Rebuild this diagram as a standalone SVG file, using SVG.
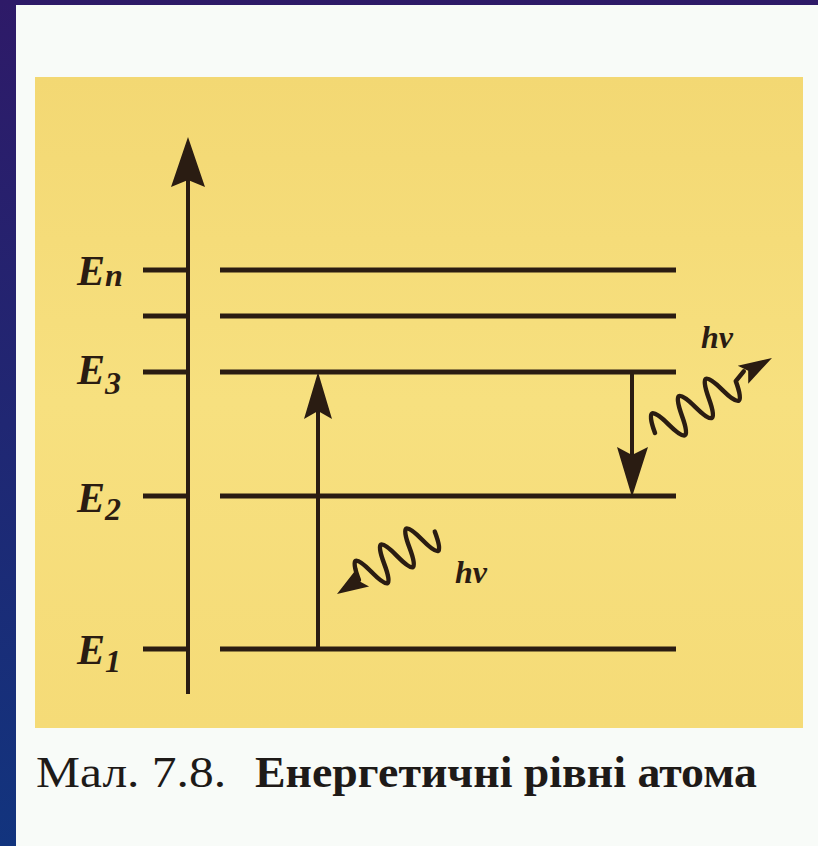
<svg xmlns="http://www.w3.org/2000/svg" width="818" height="846" viewBox="0 0 818 846">
<defs>
<linearGradient id="border" x1="0" y1="0" x2="0" y2="1">
<stop offset="0" stop-color="#2e1a68"/>
<stop offset="1" stop-color="#12347e"/>
</linearGradient>
<linearGradient id="paper" x1="0" y1="0" x2="0" y2="1">
<stop offset="0" stop-color="#f3d873"/>
<stop offset="0.5" stop-color="#f7e07f"/>
<stop offset="1" stop-color="#f5db77"/>
</linearGradient>
<style>
.ln{stroke:#2a1c12;stroke-width:5;fill:none;}
.ax{stroke:#2a1c12;stroke-width:4;fill:none;}
.hd{fill:#2a1c12;stroke:none;}
.wv{stroke:#2a1c12;stroke-width:4.5;fill:none;stroke-linejoin:round;stroke-linecap:round;}
.lab{font-family:"Liberation Serif","DejaVu Serif",serif;font-style:italic;font-weight:bold;fill:#2a1c12;}
.cap{font-family:"Liberation Serif","DejaVu Serif",serif;fill:#1e1a18;}
</style>
</defs>
<rect x="0" y="0" width="818" height="846" fill="url(#border)"/>
<rect x="16" y="5" width="802" height="841" fill="#f8fbf8"/>
<rect id="panel" x="35" y="77" width="768" height="651" fill="url(#paper)"/>

<g id="level-En"><line class="ln" x1="143" y1="270" x2="188" y2="270"/><line class="ln" x1="220" y1="270" x2="676" y2="270"/><text class="lab" x="77" y="285" font-size="42">E<tspan font-size="32" dy="1">n</tspan></text></g>
<g id="level-4"><line class="ln" x1="143" y1="316" x2="188" y2="316"/><line class="ln" x1="220" y1="316" x2="676" y2="316"/></g>
<g id="level-E3"><line class="ln" x1="143" y1="372" x2="188" y2="372"/><line class="ln" x1="220" y1="372" x2="676" y2="372"/><text class="lab" x="77" y="384" font-size="42">E<tspan font-size="32" dy="10">3</tspan></text></g>
<g id="level-E2"><line class="ln" x1="143" y1="496" x2="188" y2="496"/><line class="ln" x1="220" y1="496" x2="676" y2="496"/><text class="lab" x="77" y="512" font-size="42">E<tspan font-size="32" dy="8">2</tspan></text></g>
<g id="level-E1"><line class="ln" x1="143" y1="649" x2="188" y2="649"/><line class="ln" x1="220" y1="649" x2="676" y2="649"/><text class="lab" x="77" y="664" font-size="42">E<tspan font-size="32" dy="8">1</tspan></text></g>

<g id="connectors">
<line class="ax" x1="188" y1="694" x2="188" y2="178"/>
<polygon class="hd" points="188,137 205,187 188,180 171,187"/>
<line class="ax" x1="318" y1="649" x2="318" y2="410"/>
<polygon class="hd" points="318,372 332,419 318,411 304,419"/>
<line class="ax" x1="632" y1="372" x2="632" y2="456"/>
<polygon class="hd" points="632,497 617,447 632,455 648,447"/>
<g transform="translate(655,433) rotate(-32.7)">
<path class="wv" d="M0,0 q8,-36 16,0 t16,0 t16,0 t16,0 t16,0 t16,0 L108,-4"/>
<polygon class="hd" points="139,0 106,-12 112,-2 105,9"/>
</g>
<g transform="translate(337,594) rotate(-32.5)">
<polygon class="hd" points="0,0 31,-11 25,0 31,11"/>
<path class="wv" d="M26,0 q7.5,-36 15,0 t15,0 t15,0 t15,0 t15,0 t15,0"/>
</g>
</g>
<text class="lab" x="701" y="348" font-size="32">hν</text>
<text class="lab" x="455" y="583" font-size="32">hν</text>

<text class="cap" x="36" y="787" font-size="44"><tspan textLength="190" lengthAdjust="spacingAndGlyphs">Мал. 7.8.</tspan> <tspan x="255" font-weight="bold" textLength="502" lengthAdjust="spacingAndGlyphs">Енергетичні рівні атома</tspan></text>
</svg>
